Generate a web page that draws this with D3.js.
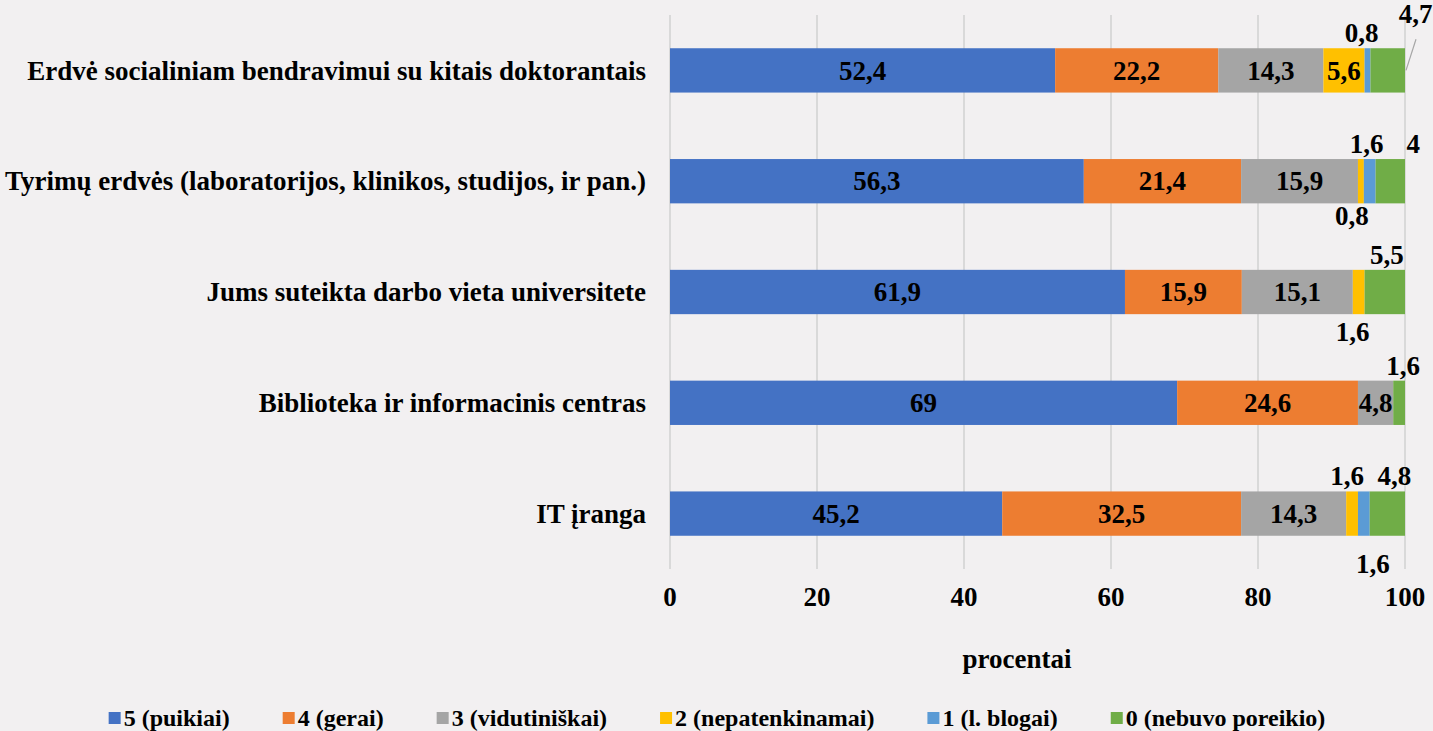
<!DOCTYPE html>
<html>
<head>
<meta charset="utf-8">
<script src="https://cdn.jsdelivr.net/npm/d3@7"></script>
<style>
  body { margin: 0; background: #f2f0f1; }
  text { font-family: "Liberation Serif", "Times New Roman", serif; font-weight: bold; fill: #000; }
</style>
</head>
<body>
<div id="chart-area"></div>
<script>
// data
var categories = [
  "Erdvė socialiniam bendravimui su kitais doktorantais",
  "Tyrimų erdvės (laboratorijos, klinikos, studijos, ir pan.)",
  "Jums suteikta darbo vieta universitete",
  "Biblioteka ir informacinis centras",
  "IT įranga"
];
var seriesNames = ["5 (puikiai)", "4 (gerai)", "3 (vidutiniškai)", "2 (nepatenkinamai)", "1 (l. blogai)", "0 (nebuvo poreikio)"];
var s5 = [52.4, 56.3, 61.9, 69, 45.2];
var s4 = [22.2, 21.4, 15.9, 24.6, 32.5];
var s3 = [14.3, 15.9, 15.1, 4.8, 14.3];
var s2 = [5.6, 0.8, 1.6, 0, 1.6];
var s1 = [0.8, 1.6, 0, 0, 1.6];
var s0 = [4.7, 4, 5.5, 1.6, 4.8];
var xTicks = [0, 20, 40, 60, 80, 100];

var colors = ["#4472c4", "#ed7d31", "#a5a5a5", "#ffc000", "#5b9bd5", "#70ad47"];

// where the small labels sit (row, series) -> above / below, nudges
var outside = {
  "0-4": { pos: "above", dx: -6, dy: 0 },
  "0-5": { pos: "above", dx: 28, dy: -19 },
  "1-3": { pos: "below", dx: -9, dy: 0 },
  "1-4": { pos: "above", dx: -3, dy: 0 },
  "1-5": { pos: "above", dx: 23, dy: 0 },
  "2-3": { pos: "below", dx: -6, dy: 5 },
  "2-5": { pos: "above", dx: 2, dy: 0 },
  "3-5": { pos: "above", dx: 4, dy: 0 },
  "4-3": { pos: "above", dx: -5, dy: 0 },
  "4-4": { pos: "below", dx: 9, dy: 15 },
  "4-5": { pos: "above", dx: 7, dy: 0 }
};

var W = 1433, H = 731;
var margin = { top: 15, right: 28, bottom: 162, left: 670 },
  width = W - margin.left - margin.right,
  height = H - margin.top - margin.bottom;

var svg = d3.select("#chart-area")
  .append("svg")
  .attr("width", W)
  .attr("height", H)
  .style("display", "block");

var g = svg.append("g")
  .attr("transform", "translate(" + margin.left + "," + margin.top + ")");

var x = d3.scaleLinear().domain([0, 100]).range([0, width]);
var y = d3.scaleBand().domain(categories).range([0, height]).paddingInner(0.6).paddingOuter(0.3);

// gridlines
g.append("g")
  .selectAll("line")
  .data(xTicks)
  .enter()
  .append("line")
  .attr("x1", function(d) { return x(d); })
  .attr("x2", function(d) { return x(d); })
  .attr("y1", 0)
  .attr("y2", height)
  .attr("stroke", "#d9d9d9")
  .attr("stroke-width", 2);

// stack
var rows = categories.map(function(c, i) {
  return { cat: c, v: [s5[i], s4[i], s3[i], s2[i], s1[i], s0[i]] };
});
var segs = [];
rows.forEach(function(r, i) {
  var acc = 0;
  r.v.forEach(function(v, j) {
    segs.push({ row: i, ser: j, cat: r.cat, v: v, x0: acc, x1: acc + v });
    acc += v;
  });
});

g.append("g")
  .selectAll("rect")
  .data(segs.filter(function(d) { return d.v > 0; }))
  .enter()
  .append("rect")
  .attr("x", function(d) { return x(d.x0); })
  .attr("width", function(d) { return x(d.x1) - x(d.x0); })
  .attr("y", function(d) { return y(d.cat); })
  .attr("height", y.bandwidth())
  .attr("fill", function(d) { return colors[d.ser]; });

// value labels
var fmt = function(v) { return String(v).replace(".", ","); };
var lab = g.append("g");
segs.filter(function(d) { return d.v > 0; }).forEach(function(d) {
  var key = d.row + "-" + d.ser;
  var cx = x((d.x0 + d.x1) / 2);
  var o = outside[key];
  var t = lab.append("text")
    .attr("font-size", "27px")
    .attr("text-anchor", "middle")
    .text(fmt(d.v));
  if (!o) {
    t.attr("x", cx).attr("y", y(d.cat) + y.bandwidth() / 2).attr("dy", "0.34em");
  } else if (o.pos === "above") {
    t.attr("x", cx + o.dx).attr("y", y(d.cat) - 6 + o.dy);
  } else {
    t.attr("x", cx + o.dx).attr("y", y(d.cat) + y.bandwidth() + 22 + o.dy);
  }
});

// leader line for 4,7
(function() {
  var d = segs.filter(function(s) { return s.row === 0 && s.ser === 5; })[0];
  lab.append("line")
    .attr("x1", x(d.x1) + 1)
    .attr("y1", y(d.cat) + y.bandwidth() / 2)
    .attr("x2", x(d.x1) + 11)
    .attr("y2", y(d.cat) - 9)
    .attr("stroke", "#a6a6a6")
    .attr("stroke-width", 1.2);
})();

// category labels
g.append("g")
  .selectAll("text")
  .data(categories)
  .enter()
  .append("text")
  .attr("x", -24)
  .attr("y", function(d) { return y(d) + y.bandwidth() / 2; })
  .attr("dy", "0.34em")
  .attr("text-anchor", "end")
  .attr("font-size", "27px")
  .text(function(d) { return d; });

// x tick labels
g.append("g")
  .selectAll("text")
  .data(xTicks)
  .enter()
  .append("text")
  .attr("x", function(d) { return x(d); })
  .attr("y", height + 37)
  .attr("text-anchor", "middle")
  .attr("font-size", "27px")
  .text(function(d) { return d; });

// axis title
svg.append("text")
  .attr("x", 1017)
  .attr("y", 668)
  .attr("text-anchor", "middle")
  .attr("font-size", "27px")
  .text("procentai");

// legend
var legend = svg.append("g").attr("transform", "translate(0,718)");
var items = legend.selectAll("g")
  .data(seriesNames)
  .enter()
  .append("g");
items.append("rect")
  .attr("width", 12)
  .attr("height", 12)
  .attr("y", -6)
  .attr("fill", function(d, i) { return colors[i]; });
items.append("text")
  .attr("x", 15)
  .attr("dy", "0.34em")
  .attr("font-size", "24px")
  .text(function(d) { return d; });
var pos = 0, offs = [];
items.each(function() {
  offs.push(pos);
  pos += 15 + this.querySelector("text").getComputedTextLength() + 53;
});
var total = pos - 53;
var start = 717 - total / 2;
items.attr("transform", function(d, i) { return "translate(" + (start + offs[i]) + ",0)"; });
</script>
</body>
</html>
